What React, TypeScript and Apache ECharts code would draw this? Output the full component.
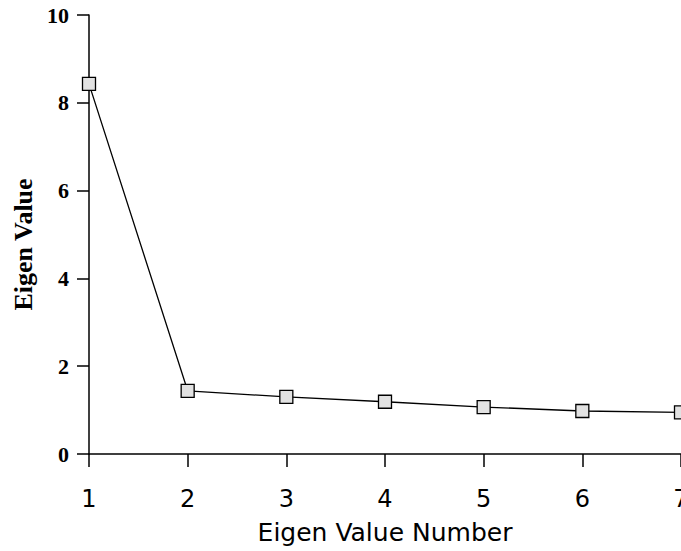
import React, { useEffect, useRef } from "react";
import * as echarts from "echarts";

const eigenNumbers = [1, 2, 3, 4, 5, 6, 7];
const eigenValues = [8.43, 1.44, 1.3, 1.19, 1.07, 0.98, 0.95];

export default function App() {
  const ref = useRef<HTMLDivElement>(null);
  useEffect(() => {
    if (!ref.current) return;
    const chart = echarts.init(ref.current, null, { renderer: "svg" });
    chart.setOption({
      animation: false,
      backgroundColor: "#ffffff",
      grid: { left: 89, right: 0, top: 15, bottom: 97, containLabel: false, outerBoundsMode: "none" },
      xAxis: {
        type: "value",
        min: 1,
        max: 7,
        interval: 1,
        name: "Eigen Value Number",
        nameLocation: "middle",
        nameGap: 66,
        nameTextStyle: { fontFamily: "DejaVu Sans, Arial, sans-serif", fontSize: 25, color: "#000" },
        axisLine: { show: true, lineStyle: { color: "#000", width: 1.5 } },
        axisTick: { show: true, inside: false, length: 13, lineStyle: { color: "#000", width: 1.5 } },
        axisLabel: { margin: 33, fontFamily: "DejaVu Sans, Arial, sans-serif", fontSize: 24, color: "#000" },
        splitLine: { show: false },
      },
      yAxis: {
        type: "value",
        min: 0,
        max: 10,
        interval: 2,
        name: "Eigen Value",
        nameLocation: "middle",
        nameRotate: 90,
        nameGap: 53,
        nameTextStyle: {
          fontFamily: "Liberation Serif, Times New Roman, serif",
          fontWeight: "bold",
          fontSize: 26,
          color: "#000",
          padding: [0, 20, 0, 0],
        },
        axisLine: { show: true, lineStyle: { color: "#000", width: 1.5 } },
        axisTick: { show: true, inside: false, length: 12, lineStyle: { color: "#000", width: 1.5 } },
        axisLabel: { margin: 20, fontFamily: "Liberation Serif, Times New Roman, serif", fontWeight: "bold", fontSize: 22, color: "#000" },
        splitLine: { show: false },
      },
      series: [
        {
          type: "line",
          data: eigenNumbers.map((n, i) => [n, eigenValues[i]]),
          symbol: "rect",
          symbolSize: 13,
          clip: false,
          lineStyle: { color: "#000", width: 1.3 },
          itemStyle: { color: "#e2e2e2", borderColor: "#000", borderWidth: 1.3 },
        },
      ],
    });
    return () => chart.dispose();
  }, []);
  return (
    <div
      ref={ref}
      style={{ position: "fixed", left: 0, top: 0, width: 681, height: 551 }}
    />
  );
}
